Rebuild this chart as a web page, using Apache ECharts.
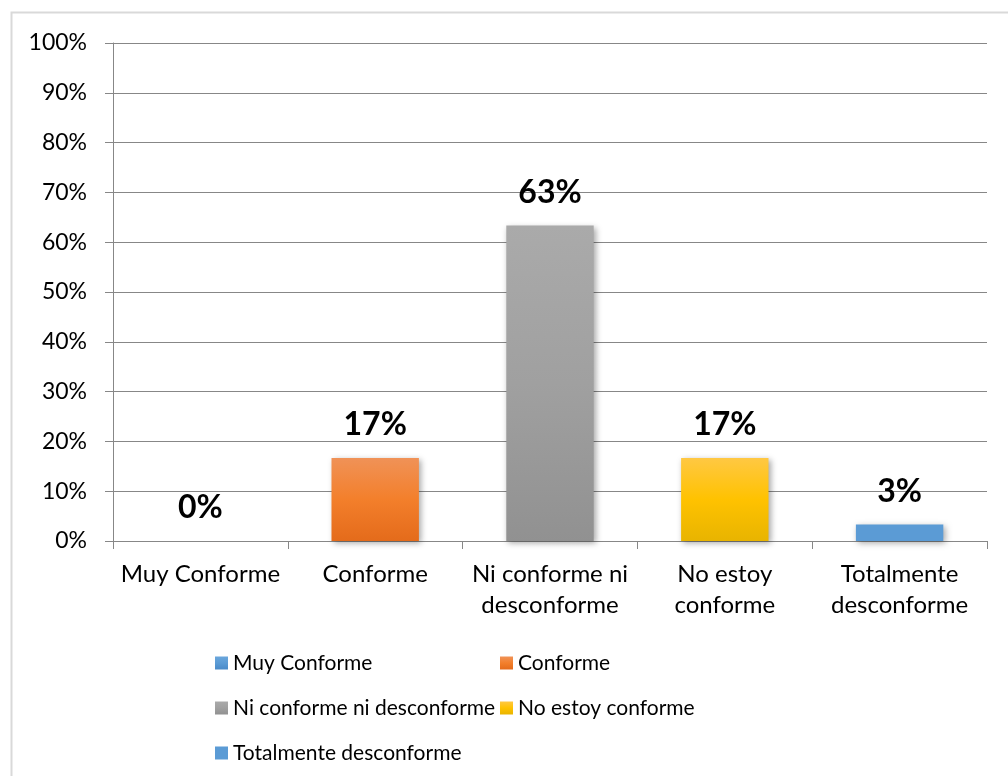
<!DOCTYPE html>
<html>
<head>
<meta charset="utf-8">
<script src="https://cdn.jsdelivr.net/npm/echarts@6/dist/echarts.min.js"></script>
<style>
html,body{margin:0;padding:0;background:#fff;}
#chart{width:1008px;height:776px;}
</style>
</head>
<body>
<div id="chart"></div>
<script>
const categories = ["Muy Conforme", "Conforme", "Ni conforme ni desconforme", "No estoy conforme", "Totalmente desconforme"];
const values = [0, 0.1667, 0.6333, 0.1667, 0.0333];
const yTicks = [0, 0.1, 0.2, 0.3, 0.4, 0.5, 0.6, 0.7, 0.8, 0.9, 1.0];

function grad(top, mid, bottom) {
  return new echarts.graphic.LinearGradient(0, 0, 0, 1, [
    {offset: 0, color: top}, {offset: 0.5, color: mid}, {offset: 1, color: bottom}
  ]);
}
const colors = [
  grad('#6AA6DC', '#5B9BD5', '#4A8AC8'),
  grad('#F09257', '#F37F2B', '#E46B1B'),
  grad('#AAAAAA', '#A0A0A0', '#919191'),
  grad('#FFC843', '#FFC200', '#E8B400'),
  '#5B9BD5'
];

function wrap(s) {
  const words = s.split(' ');
  const lines = [];
  let cur = '';
  for (const w of words) {
    if (cur && (cur + ' ' + w).length > 14) { lines.push(cur); cur = w; }
    else cur = cur ? cur + ' ' + w : w;
  }
  lines.push(cur);
  return lines.join('\n');
}

const series = categories.map((name, i) => ({
  name: name,
  type: 'bar',
  stack: 'all',
  barWidth: '50%',
  data: values.map((v, j) => j === i ? v : '-'),
  itemStyle: {
    color: colors[i],
    shadowBlur: 6,
    shadowColor: 'rgba(0,0,0,0.35)',
    shadowOffsetX: 2,
    shadowOffsetY: 2
  },
  label: {
    show: true,
    position: 'top',
    distance: 18,
    formatter: p => Math.round(p.value * 100) + '%',
    fontFamily: 'Lato',
    fontWeight: 'bold',
    fontSize: 32,
    lineHeight: 30,
    color: '#000'
  }
}));

const legendText = {fontFamily: 'Lato', fontSize: 21, lineHeight: 22, color: '#000'};

const chart = echarts.init(document.getElementById('chart'), null, {renderer: 'canvas'});
chart.setOption({
  animation: false,
  backgroundColor: '#fff',
  graphic: [{
    type: 'rect',
    shape: {x: 11.5, y: 12.5, width: 1010, height: 800},
    style: {fill: 'none', stroke: '#D9D9D9', lineWidth: 2},
    silent: true,
    z: -10
  }],
  grid: {left: 113, right: 21, top: 43, bottom: 235},
  legend: [
    {
      data: [categories[0], categories[2], categories[4]],
      orient: 'vertical',
      left: 215,
      top: 652,
      height: 300,
      padding: 0,
      itemWidth: 13,
      itemHeight: 13,
      itemGap: 23,
      icon: 'rect',
      textStyle: legendText
    },
    {
      data: [categories[1], categories[3]],
      orient: 'vertical',
      left: 500,
      top: 652,
      height: 300,
      padding: 0,
      itemWidth: 13,
      itemHeight: 13,
      itemGap: 23,
      icon: 'rect',
      textStyle: legendText
    }
  ],
  xAxis: {
    type: 'category',
    data: categories,
    axisLine: {lineStyle: {color: '#878787', width: 1}},
    axisTick: {show: true, length: 8, lineStyle: {color: '#878787'}},
    axisLabel: {
      interval: 0,
      margin: 18,
      fontFamily: 'Lato',
      fontSize: 24,
      lineHeight: 31,
      color: '#000',
      formatter: wrap
    }
  },
  yAxis: {
    type: 'value',
    min: 0,
    max: 1,
    interval: 0.1,
    axisLine: {show: true, lineStyle: {color: '#878787'}},
    axisTick: {show: true, length: 8, lineStyle: {color: '#878787'}},
    splitLine: {lineStyle: {color: '#878787', width: 1}},
    axisLabel: {
      margin: 26,
      fontFamily: 'Lato',
      fontSize: 23,
      color: '#000',
      formatter: v => {
        const t = yTicks.find(x => Math.abs(x - v) < 1e-9);
        return Math.round((t !== undefined ? t : v) * 100) + '%';
      }
    }
  },
  series: series
});
</script>
</body>
</html>
